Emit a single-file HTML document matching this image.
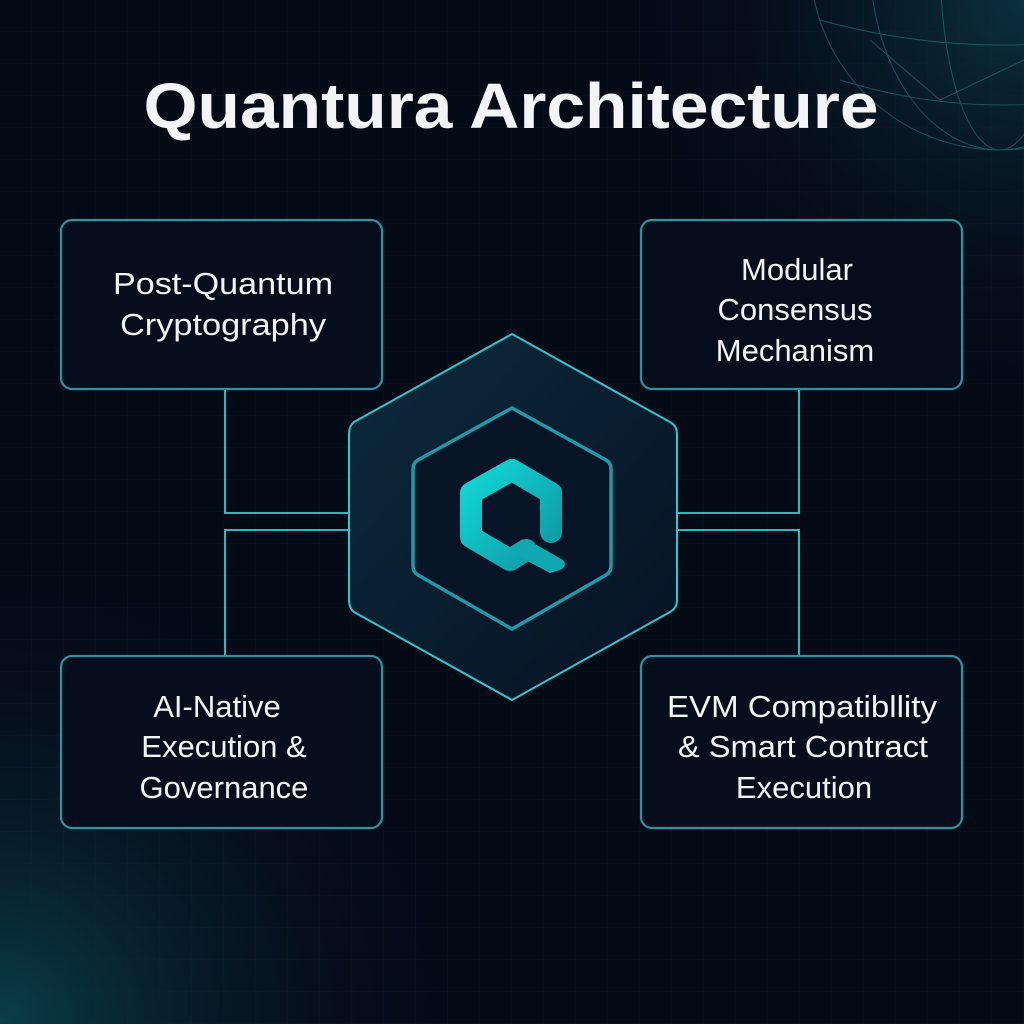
<!DOCTYPE html>
<html><head><meta charset="utf-8"><style>
html,body{margin:0;padding:0;background:#050a17;}
svg{display:block}
text{font-family:"Liberation Sans",sans-serif;fill:#f2f4f5}
</style></head><body>
<svg width="1024" height="1024" viewBox="0 0 1024 1024" xmlns="http://www.w3.org/2000/svg">
<defs>
<radialGradient id="glowBL" cx="0" cy="1024" r="480" gradientUnits="userSpaceOnUse">
<stop offset="0" stop-color="#0d5b63" stop-opacity="0.65"/>
<stop offset="0.5" stop-color="#0a3440" stop-opacity="0.3"/>
<stop offset="1" stop-color="#050a17" stop-opacity="0"/>
</radialGradient>
<radialGradient id="glowTR" cx="1024" cy="0" r="420" gradientUnits="userSpaceOnUse">
<stop offset="0" stop-color="#0d3a48" stop-opacity="0.8"/>
<stop offset="1" stop-color="#050a17" stop-opacity="0"/>
</radialGradient>
<pattern id="grid" width="32" height="32" patternUnits="userSpaceOnUse">
<path d="M32 0V32H0" fill="none" stroke="#1a2a3a" stroke-width="0.6" opacity="0.5"/>
</pattern>
<linearGradient id="hexfill" x1="0" y1="0" x2="1" y2="1">
<stop offset="0" stop-color="#0c2a3c"/>
<stop offset="1" stop-color="#061223"/>
</linearGradient>
<linearGradient id="qgrad" x1="0" y1="0" x2="1" y2="1">
<stop offset="0" stop-color="#12d6d6"/>
<stop offset="1" stop-color="#0e98a4"/>
</linearGradient>
</defs>
<rect width="1024" height="1024" fill="#050a17"/>
<rect width="1024" height="1024" fill="url(#glowTR)"/>
<rect width="1024" height="1024" fill="url(#glowBL)"/>
<rect width="1024" height="1024" fill="url(#grid)"/>
<g fill="none" stroke="#1f6f72" stroke-width="1" opacity="0.7">
<circle cx="1000" cy="-40" r="190"/>
<ellipse cx="1000" cy="-40" rx="130" ry="190"/>
<ellipse cx="1000" cy="-40" rx="60" ry="190"/>
<path d="M820 20 Q1000 70 1190 20"/>
<path d="M840 80 Q1000 130 1170 80"/>
<path d="M815 -30 Q1000 20 1190 -30"/>
<path d="M870 40 L940 100 L1024 60"/>
</g>
<text x="511" y="128" font-size="64" font-weight="bold" text-anchor="middle" textLength="735" lengthAdjust="spacingAndGlyphs">Quantura Architecture</text>
<g fill="none" stroke="#2bb8c0" stroke-width="2">
<path d="M225 389V513H350"/>
<path d="M225 656V530H350"/>
<path d="M799 389V513H676"/>
<path d="M799 656V530H676"/>
</g>
<g fill="#060d1c" stroke="#2a94a0" stroke-width="2.2">
<rect x="61" y="220" width="321" height="169" rx="11"/>
<rect x="641" y="220" width="321" height="169" rx="11"/>
<rect x="61" y="656" width="321" height="172" rx="11"/>
<rect x="641" y="656" width="321" height="172" rx="11"/>
</g>
<g font-size="31" text-anchor="middle">
<text x="223" y="294" textLength="220" lengthAdjust="spacingAndGlyphs">Post-Quantum</text>
<text x="223" y="335" textLength="206" lengthAdjust="spacingAndGlyphs">Cryptography</text>
<text x="797" y="280">Modular</text>
<text x="795" y="320">Consensus</text>
<text x="795" y="361">Mechanism</text>
<text x="217" y="717">AI-Native</text>
<text x="224" y="757">Execution &amp;</text>
<text x="224" y="798">Governance</text>
<text x="802" y="717" textLength="270" lengthAdjust="spacingAndGlyphs">EVM Compatibllity</text>
<text x="803" y="757" textLength="250" lengthAdjust="spacingAndGlyphs">&amp; Smart Contract</text>
<text x="804" y="798">Execution</text>
</g>
<path d="M512 334 L670 422 Q677 426 677 434 L677 600 Q677 608 670 612 L512 700 L354 612 Q349 608 349 600 L349 434 Q349 426 354 422 Z" fill="url(#hexfill)" stroke="#2bc8cf" stroke-width="2"/>
<path d="M512 408 L606 460 Q611 463 611 469 L611 566 Q611 572 606 575 L512 629 L418 575 Q413 572 413 566 L413 469 Q413 463 418 460 Z" fill="#071527" stroke="#1f9aa6" stroke-width="3.5"/>
<g fill="none" stroke="url(#qgrad)" stroke-width="22" stroke-linejoin="round" stroke-linecap="round">
<path d="M551 532 V493 L512 470 L471 493 V537 L510 560 L526 550"/>
</g>
<path d="M512 553 L528 540 L563 560 Q568 566 560 570 L550 573 Z" fill="#0fa8b0"/>
</svg>
</body></html>
